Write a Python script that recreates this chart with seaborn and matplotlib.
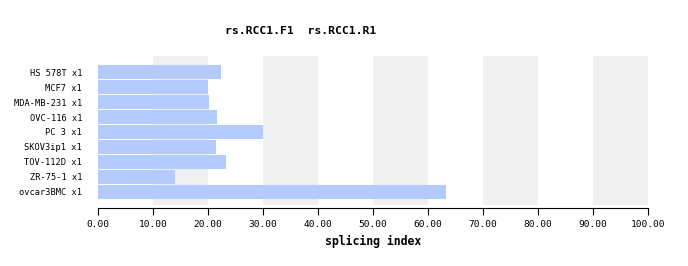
import matplotlib
matplotlib.use("Agg")
import matplotlib.pyplot as plt
import seaborn as sns
import pandas as pd

categories = ["HS 578T x1", "MCF7 x1", "MDA-MB-231 x1", "OVC-116 x1", "PC 3 x1",
              "SKOV3ip1 x1", "TOV-112D x1", "ZR-75-1 x1", "ovcar3BMC x1"]
values = [22.4, 20.05, 20.2, 21.6, 30.0, 21.45, 23.3, 14.0, 63.2]
xticks = [0, 10, 20, 30, 40, 50, 60, 70, 80, 90, 100]
title = "rs.RCC1.F1  rs.RCC1.R1"
xlabel = "splicing index"

sns.set_style("white")
plt.rcParams['font.family'] = ['DejaVu Sans Mono', 'DejaVu Sans']

df = pd.DataFrame({"cat": categories, "val": values})

fig = plt.figure(figsize=(6.88, 2.66), dpi=100)
ax = fig.add_axes([98/688, 1-205/266, 550/688, 149/266])

for i in range(1, 10, 2):
    ax.axvspan(xticks[i], xticks[i+1], color="#f0f0f0", zorder=0, lw=0)

sns.barplot(data=df, x="val", y="cat", orient="h", color="#b3cbff",
            saturation=1, width=0.91, ax=ax, zorder=2, edgecolor="none")

ax.set_xlim(0, 100)
ax.set_ylim(8.867, -1.067)
ax.set_xticks(xticks)
ax.set_xticklabels([f"{v:.2f}" for v in xticks])
ax.tick_params(axis="x", bottom=True, direction="out", length=5, width=0.8,
               color="black", pad=4, labelsize=6.8, labelcolor="black")
ax.tick_params(axis="y", left=False, length=0, pad=11.5, labelsize=6.2, labelcolor="black")
for s in ["top", "right", "left"]:
    ax.spines[s].set_visible(False)
ax.spines["bottom"].set_position(("outward", 2))
ax.spines["bottom"].set_color("black")
ax.spines["bottom"].set_linewidth(0.8)
ax.set_ylabel("")
ax.set_xlabel(xlabel, fontsize=8.3, fontweight="bold", labelpad=4, color="black")
ax.grid(False)

fig.text(301/688, 1-31/266, title, ha="center", va="center", fontsize=8.2,
         fontweight="bold", color="black")

fig.savefig("out.png", dpi=100)
